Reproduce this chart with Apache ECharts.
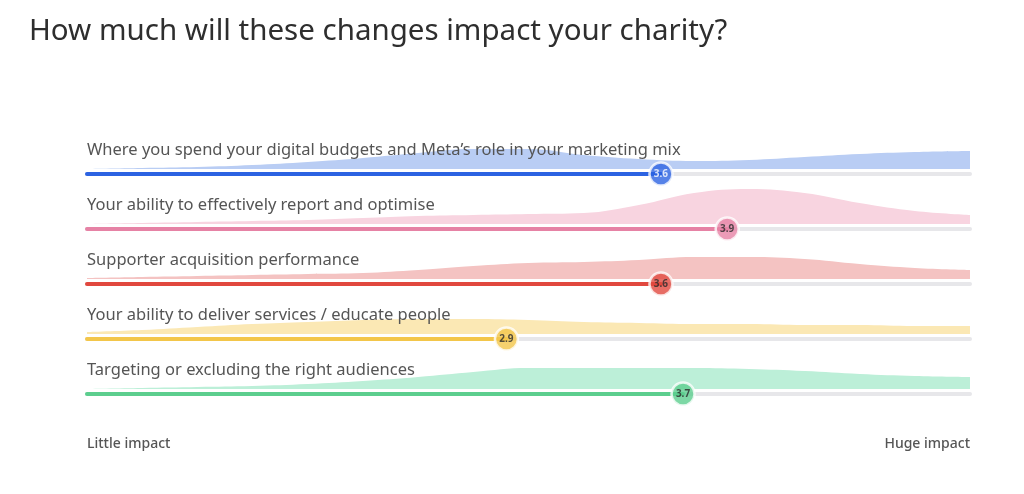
<!DOCTYPE html>
<html>
<head>
<meta charset="utf-8">
<script src="https://cdn.jsdelivr.net/npm/echarts@6/dist/echarts.min.js"></script>
<style>html,body{margin:0;padding:0;background:#fff;}#c{width:1024px;height:494px;}</style>
</head>
<body>
<div id="c"></div>
<script>
const titleText = 'How much will these changes impact your charity?';
const categories = [
  'Where you spend your digital budgets and Meta\u2019s role in your marketing mix',
  'Your ability to effectively report and optimise',
  'Supporter acquisition performance',
  'Your ability to deliver services / educate people',
  'Targeting or excluding the right audiences'
];
const values = [3.6, 3.9, 3.6, 2.9, 3.7];
const scaleLabels = ['Little impact', 'Huge impact'];
const scaleMin = 1, scaleMax = 5;
// distribution positions along the 1..5 scale
const distX = [1, 1.25, 1.5, 1.75, 2, 2.25, 2.5, 2.75, 3, 3.25, 3.5, 3.75, 4, 4.25, 4.5, 4.75, 5];
// distribution heights per row (relative)
const dist1 = [0, 1, 2, 4, 7, 11, 16, 20, 20, 14, 10, 8, 9, 12, 15, 17, 18];
const dist2 = [0, 1, 2, 3, 4, 6, 8, 9, 10, 11, 19, 31, 35, 31, 21, 13, 9];
const dist3 = [1, 2, 3, 4, 5, 6, 9, 13, 16, 17, 19, 22, 22, 20, 15, 11, 9];
const dist4 = [2, 4, 7, 10, 12, 14, 15, 15, 14, 12, 11, 10, 10, 9, 9, 8, 8];
const dist5 = [0, 1, 2, 3, 5, 8, 12, 17, 21, 21, 21, 21, 20, 18, 15, 13, 12];
const dists = [dist1, dist2, dist3, dist4, dist5];

const barColors = ['#2c63e2', '#e682a5', '#e1483e', '#f3c64a', '#5cce8e'];
const areaColors = ['#b9cdf4', '#f8d4e0', '#f4c3c2', '#fbe8b4', '#bcefd8'];
const markerText = ['#ffffff', '#2b2b2b', '#2b2b2b', '#2b2b2b', '#2b2b2b'];
const trackColor = '#e7e7ea';

const FONT = 'Noto Sans';
const left = 87, right = 54;
const trackY0 = 174, rowGap = 55;

const grids = [], xAxes = [], yAxes = [], series = [], graphics = [];
categories.forEach((cat, i) => {
  const trackY = trackY0 + i * rowGap;
  grids.push({ left: left, right: right, top: trackY - 40, height: 48 });
  xAxes.push({ gridIndex: i, type: 'value', min: scaleMin, max: scaleMax, show: false });
  yAxes.push({ gridIndex: i, type: 'value', min: -13, max: 35, show: false });
  series.push({
    type: 'line', xAxisIndex: i, yAxisIndex: i, smooth: 0.4, symbol: 'none',
    lineStyle: { width: 0 }, areaStyle: { color: areaColors[i], opacity: 1 },
    data: distX.map((x, k) => [x, dists[i][k]]), silent: true, z: 1
  });
  series.push({
    type: 'line', xAxisIndex: i, yAxisIndex: i, symbol: 'none', clip: false,
    lineStyle: { width: 4, color: trackColor, cap: 'round' },
    data: [[scaleMin, -5], [scaleMax, -5]], silent: true, z: 2
  });
  series.push({
    type: 'line', xAxisIndex: i, yAxisIndex: i, symbol: 'none', clip: false,
    lineStyle: { width: 4, color: barColors[i], cap: 'round' },
    data: [[scaleMin, -5], [values[i], -5]], silent: true, z: 3
  });
  series.push({
    type: 'scatter', xAxisIndex: i, yAxisIndex: i, clip: false, symbolSize: 23,
    itemStyle: { color: barColors[i], borderColor: '#ffffff', borderWidth: 2.5 },
    label: { show: true, position: 'inside', formatter: (p) => p.value[0].toFixed(1),
      color: markerText[i], fontSize: 10, fontWeight: 'bold', fontFamily: FONT },
    data: [[values[i], -5]], z: 4
  });
  graphics.push({
    type: 'text', left: left, top: trackY - 32, z: 100,
    style: { text: cat, fill: '#555555', font: '16.5px "' + FONT + '"' }
  });
});

graphics.push({ type: 'text', left: 29, top: 17, z: 100,
  style: { text: titleText, fill: '#2e2e2e', font: '29.5px "' + FONT + '"' } });
graphics.push({ type: 'text', left: left, top: 437, z: 100,
  style: { text: scaleLabels[0], fill: '#555555', font: '500 14px "' + FONT + '"' } });
graphics.push({ type: 'text', right: right, top: 437, z: 100,
  style: { text: scaleLabels[1], fill: '#555555', font: '500 14px "' + FONT + '"' } });

const chart = echarts.init(document.getElementById('c'), null, { renderer: 'canvas' });
chart.setOption({
  animation: false,
  backgroundColor: '#ffffff',
  grid: grids, xAxis: xAxes, yAxis: yAxes, series: series, graphic: graphics
});
</script>
</body>
</html>
